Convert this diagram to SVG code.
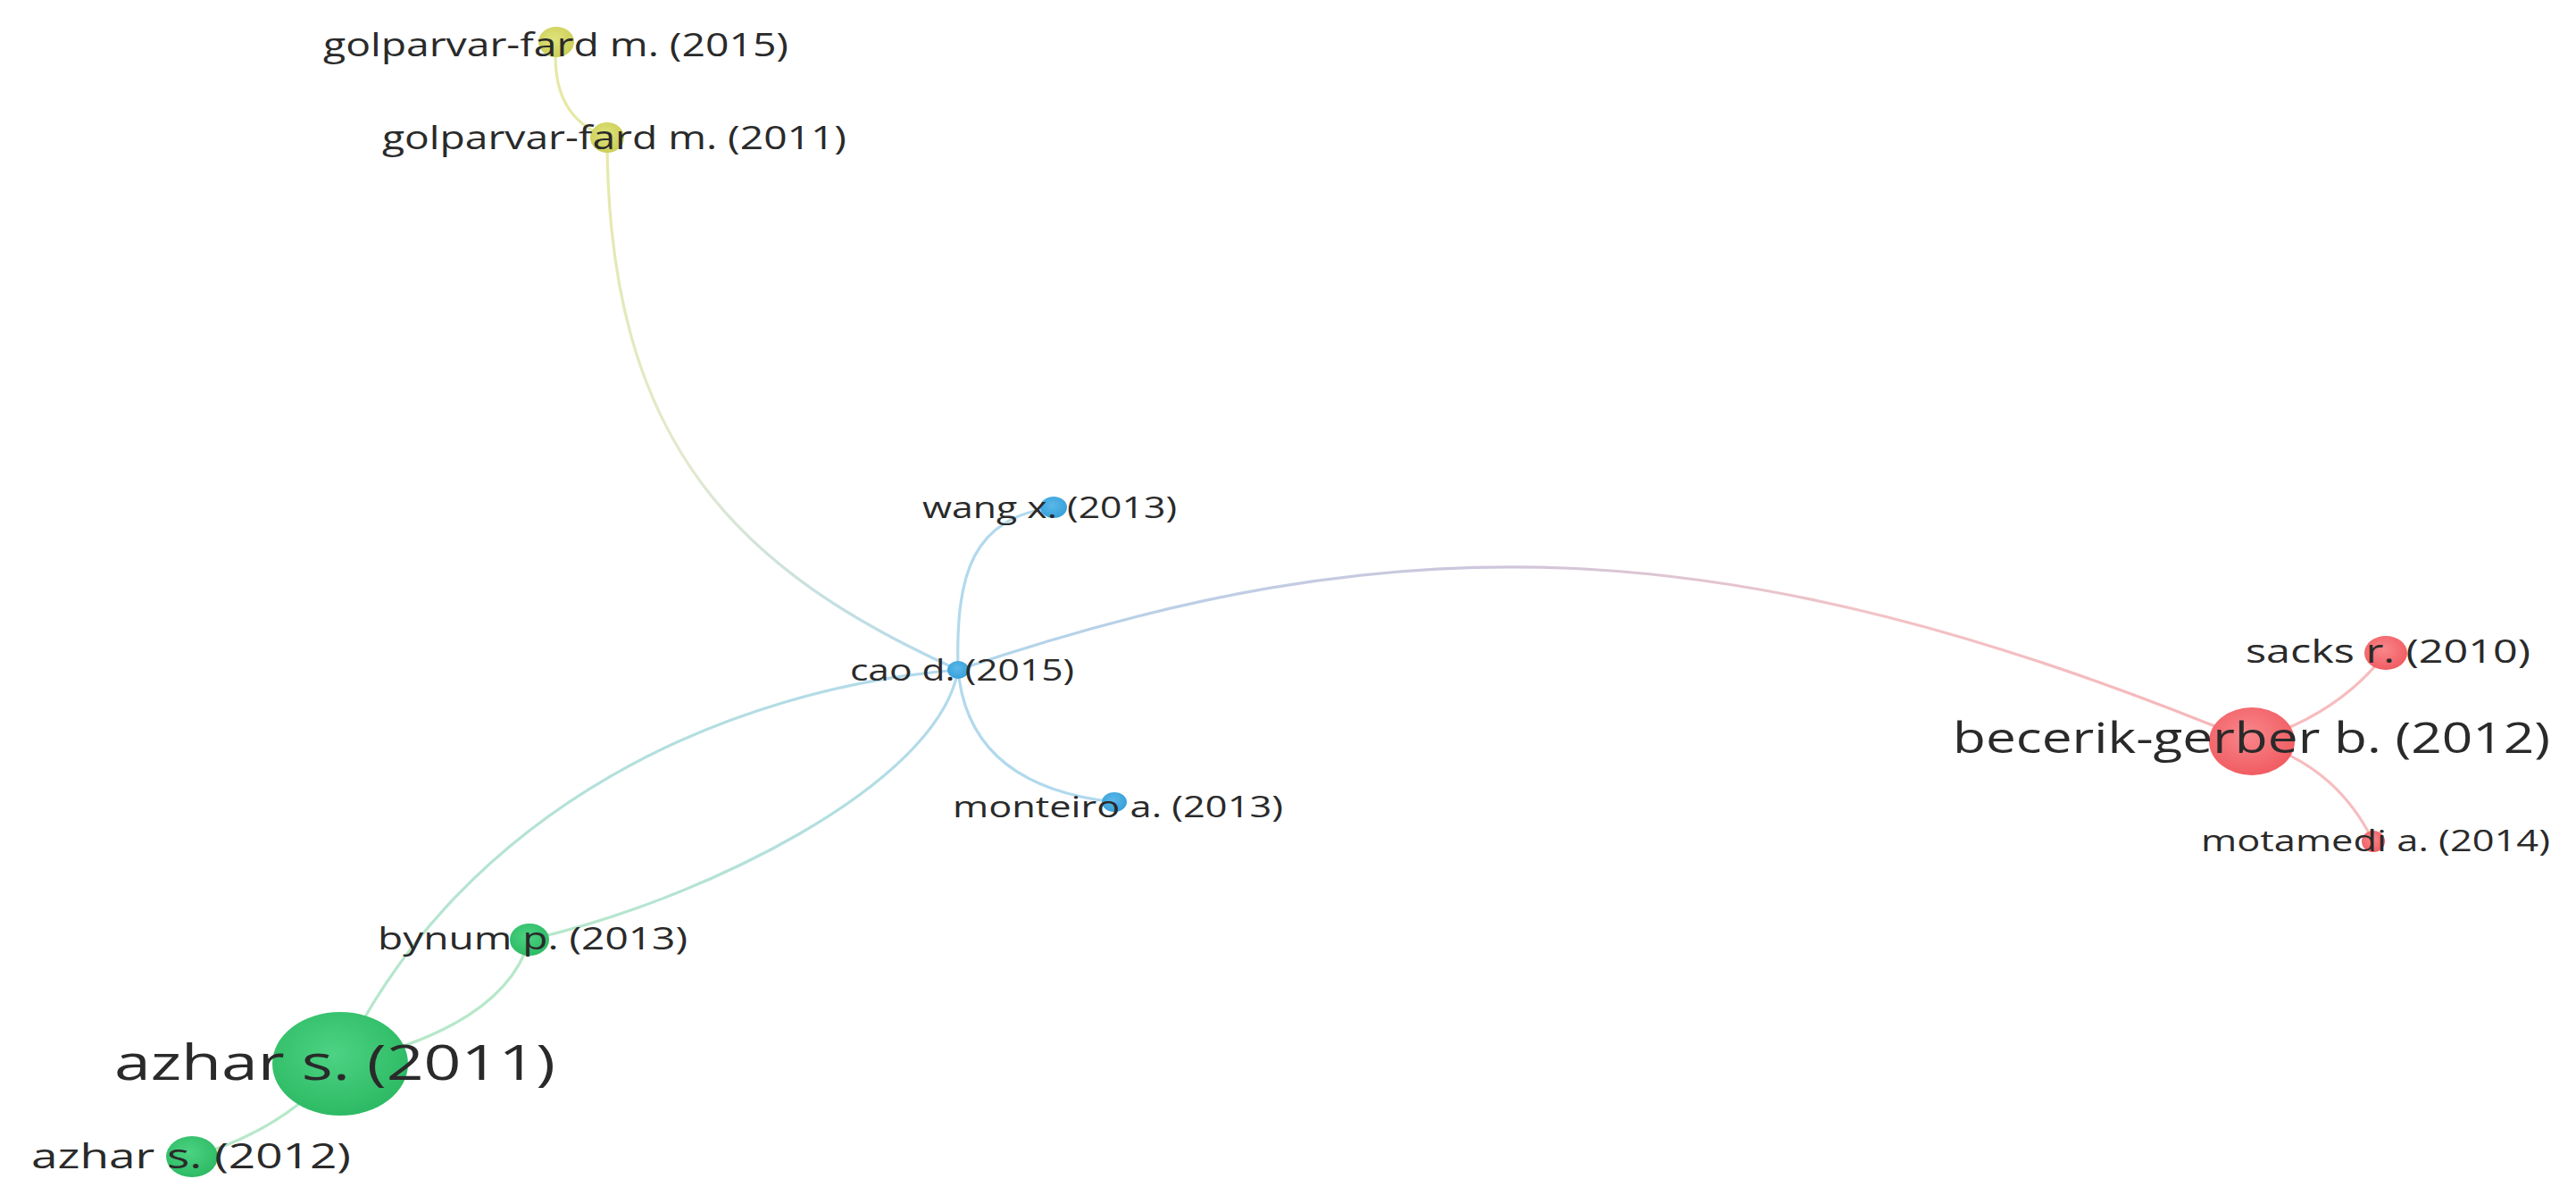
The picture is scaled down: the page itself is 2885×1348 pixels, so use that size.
<svg xmlns="http://www.w3.org/2000/svg" width="2885" height="1348" viewBox="0 0 2885 1348">
<style>
.lbl{font-family:"Open Sans","Liberation Sans",sans-serif;fill:#2a2a2a}
.edge{fill:none;stroke-width:3.2;stroke-linecap:round}
</style>
<defs>
<radialGradient id="gY" cx="0.45" cy="0.4" r="0.65"><stop offset="0" stop-color="#dfe27a"/><stop offset="1" stop-color="#cacd55"/></radialGradient>
<radialGradient id="gB" cx="0.45" cy="0.4" r="0.65"><stop offset="0" stop-color="#5bb7e8"/><stop offset="1" stop-color="#349fd9"/></radialGradient>
<radialGradient id="gG" cx="0.45" cy="0.4" r="0.65"><stop offset="0" stop-color="#4cd383"/><stop offset="1" stop-color="#2bb862"/></radialGradient>
<radialGradient id="gR" cx="0.45" cy="0.4" r="0.65"><stop offset="0" stop-color="#f8878b"/><stop offset="1" stop-color="#f0595f"/></radialGradient>
<linearGradient id="eYB" gradientUnits="userSpaceOnUse" x1="680" y1="154" x2="1073" y2="750"><stop offset="0" stop-color="#e6e8a8"/><stop offset="0.5" stop-color="#e2e9cf"/><stop offset="1" stop-color="#b2d9ed"/></linearGradient>
<linearGradient id="eBR" gradientUnits="userSpaceOnUse" x1="1073" y1="750" x2="2522" y2="830"><stop offset="0" stop-color="#b0d6ec"/><stop offset="0.4" stop-color="#cdc6dc"/><stop offset="0.7" stop-color="#f2c3c7"/><stop offset="1" stop-color="#f7b5b8"/></linearGradient>
<linearGradient id="eBG1" gradientUnits="userSpaceOnUse" x1="1073" y1="750" x2="381" y2="1191"><stop offset="0" stop-color="#b2d9ed"/><stop offset="1" stop-color="#b6e8c8"/></linearGradient>
<linearGradient id="eBG2" gradientUnits="userSpaceOnUse" x1="1073" y1="750" x2="593" y2="1052"><stop offset="0" stop-color="#b2d9ed"/><stop offset="1" stop-color="#b6e8c8"/></linearGradient>
</defs>
<g id="connectors">
<path class="edge" stroke="#e6e8a6" d="M623,47 Q615,130 680,154"/>
<path class="edge" stroke="url(#eYB)" d="M680,154 C680,500 830,640 1073,750"/>
<path class="edge" stroke="#b2d9ed" d="M1073,750 C1070,640 1090,580 1180,568"/>
<path class="edge" stroke="#b2d9ed" d="M1073,750 Q1085,880 1248,898"/>
<path class="edge" stroke="url(#eBR)" d="M1073,750 C1560,585 1930,585 2522,830"/>
<path class="edge" stroke="url(#eBG1)" d="M1073,750 C820,770 520,900 381,1191"/>
<path class="edge" stroke="url(#eBG2)" d="M1073,750 C1050,880 780,1010 593,1052"/>
<path class="edge" stroke="#b6e8c8" d="M381,1191 Q565,1150 593,1052"/>
<path class="edge" stroke="#b6e8c8" d="M381,1191 Q320,1265 215,1295"/>
<path class="edge" stroke="#f7bcbe" d="M2522,830 Q2620,800 2672,731"/>
<path class="edge" stroke="#f7bcbe" d="M2522,830 Q2615,855 2658,942"/>
</g>
<g id="golparvar2015"><ellipse cx="623" cy="47" rx="20" ry="17" fill="url(#gY)"/><text class="lbl" x="362" y="63" font-size="36" textLength="521" lengthAdjust="spacingAndGlyphs">golparvar-fard m. (2015)</text></g>
<g id="golparvar2011"><ellipse cx="680" cy="154" rx="19" ry="17" fill="url(#gY)"/><text class="lbl" x="428" y="167" font-size="36" textLength="520" lengthAdjust="spacingAndGlyphs">golparvar-fard m. (2011)</text></g>
<g id="wang2013"><ellipse cx="1180" cy="568" rx="15" ry="12" fill="url(#gB)"/><text class="lbl" x="1033" y="580" font-size="32" textLength="285" lengthAdjust="spacingAndGlyphs">wang x. (2013)</text></g>
<g id="cao2015"><ellipse cx="1073" cy="750" rx="12" ry="10" fill="url(#gB)"/><text class="lbl" x="952" y="762" font-size="32" textLength="251" lengthAdjust="spacingAndGlyphs">cao d. (2015)</text></g>
<g id="monteiro2013"><ellipse cx="1248" cy="898" rx="14" ry="11" fill="url(#gB)"/><text class="lbl" x="1067" y="915" font-size="33" textLength="370" lengthAdjust="spacingAndGlyphs">monteiro a. (2013)</text></g>
<g id="bynum2013"><ellipse cx="593" cy="1052" rx="22" ry="18" fill="url(#gG)"/><text class="lbl" x="423" y="1063" font-size="34" textLength="347" lengthAdjust="spacingAndGlyphs">bynum p. (2013)</text></g>
<g id="azhar2011"><ellipse cx="381" cy="1191" rx="76" ry="58" fill="url(#gG)"/><text class="lbl" x="128" y="1209" font-size="54" textLength="494" lengthAdjust="spacingAndGlyphs">azhar s. (2011)</text></g>
<g id="azhar2012"><ellipse cx="215" cy="1295" rx="29" ry="23" fill="url(#gG)"/><text class="lbl" x="35" y="1308" font-size="39" textLength="358" lengthAdjust="spacingAndGlyphs">azhar s. (2012)</text></g>
<g id="becerik2012"><ellipse cx="2522" cy="830" rx="48" ry="38" fill="url(#gR)"/><text class="lbl" x="2187" y="843" font-size="47" textLength="669" lengthAdjust="spacingAndGlyphs">becerik-gerber b. (2012)</text></g>
<g id="sacks2010"><ellipse cx="2672" cy="731" rx="24" ry="19" fill="url(#gR)"/><text class="lbl" x="2515" y="742" font-size="37" textLength="319" lengthAdjust="spacingAndGlyphs">sacks r. (2010)</text></g>
<g id="motamedi2014"><ellipse cx="2658" cy="942" rx="13" ry="12" fill="url(#gR)"/><text class="lbl" x="2465" y="953" font-size="33" textLength="391" lengthAdjust="spacingAndGlyphs">motamedi a. (2014)</text></g>
</svg>
